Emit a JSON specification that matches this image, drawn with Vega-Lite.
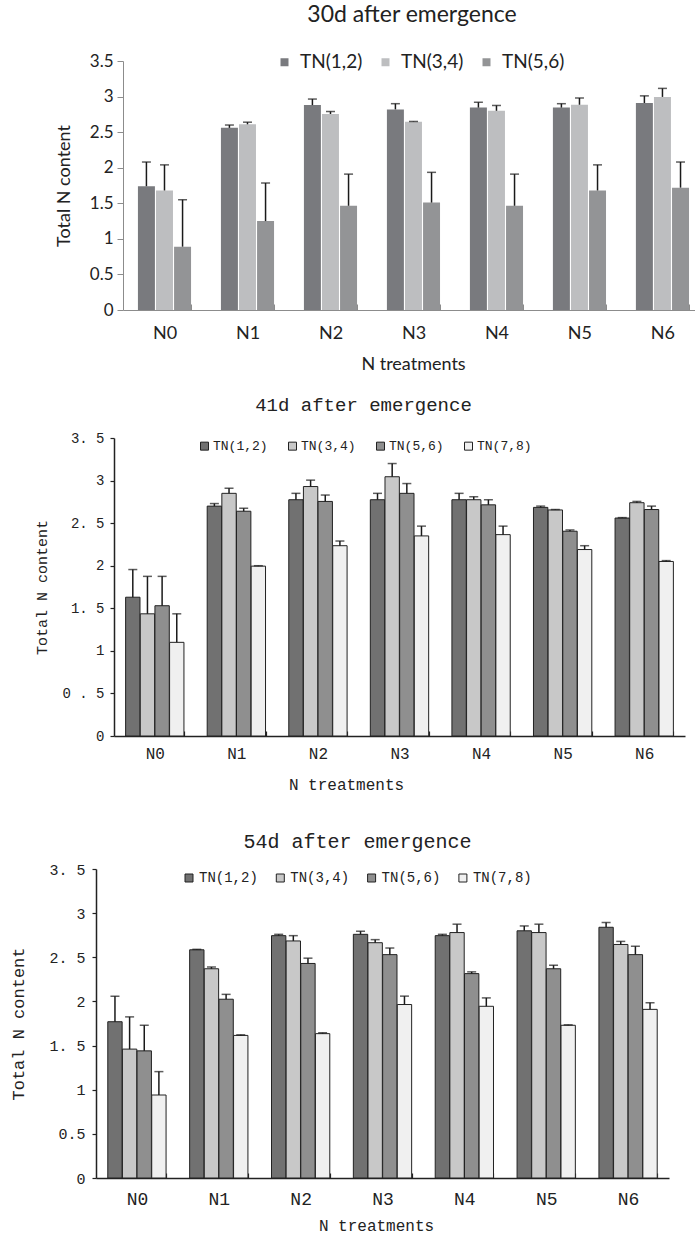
{
  "$schema": "https://vega.github.io/schema/vega-lite/v6.json",
  "padding": {"left": 0, "top": 4, "right": 0, "bottom": 4},
  "background": "white",
  "config": {"view": {"stroke": null}},
  "datasets": {
    "d30": [
      {"treatment": "N0", "series": "TN(1,2)", "value": 1.74, "upper": 2.08},
      {"treatment": "N0", "series": "TN(3,4)", "value": 1.68, "upper": 2.04},
      {"treatment": "N0", "series": "TN(5,6)", "value": 0.89, "upper": 1.55},
      {"treatment": "N1", "series": "TN(1,2)", "value": 2.56, "upper": 2.6},
      {"treatment": "N1", "series": "TN(3,4)", "value": 2.61, "upper": 2.64},
      {"treatment": "N1", "series": "TN(5,6)", "value": 1.25, "upper": 1.785},
      {"treatment": "N2", "series": "TN(1,2)", "value": 2.88, "upper": 2.965},
      {"treatment": "N2", "series": "TN(3,4)", "value": 2.755, "upper": 2.79},
      {"treatment": "N2", "series": "TN(5,6)", "value": 1.465, "upper": 1.91},
      {"treatment": "N3", "series": "TN(1,2)", "value": 2.82, "upper": 2.9},
      {"treatment": "N3", "series": "TN(3,4)", "value": 2.645, "upper": 2.65},
      {"treatment": "N3", "series": "TN(5,6)", "value": 1.51, "upper": 1.935},
      {"treatment": "N4", "series": "TN(1,2)", "value": 2.845, "upper": 2.92},
      {"treatment": "N4", "series": "TN(3,4)", "value": 2.8, "upper": 2.875},
      {"treatment": "N4", "series": "TN(5,6)", "value": 1.465, "upper": 1.91},
      {"treatment": "N5", "series": "TN(1,2)", "value": 2.845, "upper": 2.9},
      {"treatment": "N5", "series": "TN(3,4)", "value": 2.885, "upper": 2.98},
      {"treatment": "N5", "series": "TN(5,6)", "value": 1.68, "upper": 2.04},
      {"treatment": "N6", "series": "TN(1,2)", "value": 2.91, "upper": 3.01},
      {"treatment": "N6", "series": "TN(3,4)", "value": 2.995, "upper": 3.115},
      {"treatment": "N6", "series": "TN(5,6)", "value": 1.72, "upper": 2.08}
    ],
    "d41": [
      {"treatment": "N0", "series": "TN(1,2)", "value": 1.63, "upper": 1.955},
      {"treatment": "N0", "series": "TN(3,4)", "value": 1.435, "upper": 1.875},
      {"treatment": "N0", "series": "TN(5,6)", "value": 1.53, "upper": 1.875},
      {"treatment": "N0", "series": "TN(7,8)", "value": 1.1, "upper": 1.435},
      {"treatment": "N1", "series": "TN(1,2)", "value": 2.7, "upper": 2.73},
      {"treatment": "N1", "series": "TN(3,4)", "value": 2.85, "upper": 2.91},
      {"treatment": "N1", "series": "TN(5,6)", "value": 2.64, "upper": 2.675},
      {"treatment": "N1", "series": "TN(7,8)", "value": 1.995, "upper": 2.0},
      {"treatment": "N2", "series": "TN(1,2)", "value": 2.775, "upper": 2.85},
      {"treatment": "N2", "series": "TN(3,4)", "value": 2.93, "upper": 3.005},
      {"treatment": "N2", "series": "TN(5,6)", "value": 2.755, "upper": 2.83},
      {"treatment": "N2", "series": "TN(7,8)", "value": 2.235, "upper": 2.29},
      {"treatment": "N3", "series": "TN(1,2)", "value": 2.775, "upper": 2.85},
      {"treatment": "N3", "series": "TN(3,4)", "value": 3.045, "upper": 3.2},
      {"treatment": "N3", "series": "TN(5,6)", "value": 2.85, "upper": 2.965},
      {"treatment": "N3", "series": "TN(7,8)", "value": 2.35, "upper": 2.465},
      {"treatment": "N4", "series": "TN(1,2)", "value": 2.775, "upper": 2.85},
      {"treatment": "N4", "series": "TN(3,4)", "value": 2.775, "upper": 2.81},
      {"treatment": "N4", "series": "TN(5,6)", "value": 2.715, "upper": 2.775},
      {"treatment": "N4", "series": "TN(7,8)", "value": 2.365, "upper": 2.465},
      {"treatment": "N5", "series": "TN(1,2)", "value": 2.685, "upper": 2.7},
      {"treatment": "N5", "series": "TN(3,4)", "value": 2.655, "upper": 2.66},
      {"treatment": "N5", "series": "TN(5,6)", "value": 2.405, "upper": 2.42},
      {"treatment": "N5", "series": "TN(7,8)", "value": 2.19, "upper": 2.235},
      {"treatment": "N6", "series": "TN(1,2)", "value": 2.56, "upper": 2.565},
      {"treatment": "N6", "series": "TN(3,4)", "value": 2.74, "upper": 2.755},
      {"treatment": "N6", "series": "TN(5,6)", "value": 2.66, "upper": 2.7},
      {"treatment": "N6", "series": "TN(7,8)", "value": 2.05, "upper": 2.06}
    ],
    "d54": [
      {"treatment": "N0", "series": "TN(1,2)", "value": 1.77, "upper": 2.06},
      {"treatment": "N0", "series": "TN(3,4)", "value": 1.46, "upper": 1.825},
      {"treatment": "N0", "series": "TN(5,6)", "value": 1.44, "upper": 1.73},
      {"treatment": "N0", "series": "TN(7,8)", "value": 0.94, "upper": 1.205},
      {"treatment": "N1", "series": "TN(1,2)", "value": 2.585, "upper": 2.59},
      {"treatment": "N1", "series": "TN(3,4)", "value": 2.37, "upper": 2.39},
      {"treatment": "N1", "series": "TN(5,6)", "value": 2.025, "upper": 2.08},
      {"treatment": "N1", "series": "TN(7,8)", "value": 1.615, "upper": 1.622},
      {"treatment": "N2", "series": "TN(1,2)", "value": 2.745, "upper": 2.76},
      {"treatment": "N2", "series": "TN(3,4)", "value": 2.685, "upper": 2.745},
      {"treatment": "N2", "series": "TN(5,6)", "value": 2.43, "upper": 2.49},
      {"treatment": "N2", "series": "TN(7,8)", "value": 1.635, "upper": 1.645},
      {"treatment": "N3", "series": "TN(1,2)", "value": 2.76, "upper": 2.795},
      {"treatment": "N3", "series": "TN(3,4)", "value": 2.665, "upper": 2.7},
      {"treatment": "N3", "series": "TN(5,6)", "value": 2.53, "upper": 2.605},
      {"treatment": "N3", "series": "TN(7,8)", "value": 1.965, "upper": 2.06},
      {"treatment": "N4", "series": "TN(1,2)", "value": 2.745, "upper": 2.76},
      {"treatment": "N4", "series": "TN(3,4)", "value": 2.78, "upper": 2.875},
      {"treatment": "N4", "series": "TN(5,6)", "value": 2.315, "upper": 2.335},
      {"treatment": "N4", "series": "TN(7,8)", "value": 1.945, "upper": 2.04},
      {"treatment": "N5", "series": "TN(1,2)", "value": 2.8, "upper": 2.855},
      {"treatment": "N5", "series": "TN(3,4)", "value": 2.78, "upper": 2.875},
      {"treatment": "N5", "series": "TN(5,6)", "value": 2.37, "upper": 2.41},
      {"treatment": "N5", "series": "TN(7,8)", "value": 1.73, "upper": 1.735},
      {"treatment": "N6", "series": "TN(1,2)", "value": 2.84, "upper": 2.895},
      {"treatment": "N6", "series": "TN(3,4)", "value": 2.645, "upper": 2.68},
      {"treatment": "N6", "series": "TN(5,6)", "value": 2.53, "upper": 2.625},
      {"treatment": "N6", "series": "TN(7,8)", "value": 1.91, "upper": 1.985}
    ]
  },
  "spacing": 0,
  "resolve": {"scale": {"color": "independent", "x": "independent", "y": "independent", "xOffset": "independent"}, "legend": {"color": "independent"}},
  "vconcat": [
    {
      "spacing": 0,
      "hconcat": [
        {"width": 55, "height": 334.3, "data": {"values": []}, "mark": "point", "encoding": {}},
        {
          "width": 572, "height": 249,
          "data": {"name": "d30"},
          "title": {"text": "30d after emergence", "font": "Lato", "fontSize": 23, "fontWeight": "normal", "color": "#222", "anchor": "middle", "frame": "group", "dx": 3, "offset": 25},
          "encoding": {
            "x": {"field": "treatment", "type": "nominal", "title": "N treatments",
              "scale": {"paddingInner": 0.36, "paddingOuter": 0.126, "align": 0.714},
              "axis": {"labelAngle": 0, "labelFont": "Lato", "labelFontSize": 18, "labelColor": "#222", "labelPadding": 20, "tickSize": -6, "tickBand": "extent", "domainColor": "#8c8c8c", "tickColor": "#8c8c8c", "titleFont": "Lato", "titleFontSize": 18, "titleFontWeight": "normal", "titleColor": "#222", "titleX": 290, "titleY": 54, "titleBaseline": "middle"}},
            "xOffset": {"field": "series", "type": "nominal", "scale": {"paddingInner": 0.06}},
            "y": {"field": "value", "type": "quantitative", "title": "Total N content",
              "scale": {"domain": [0, 3.5], "nice": false},
              "axis": {"values": [0, 0.5, 1, 1.5, 2, 2.5, 3, 3.5], "format": "~g", "grid": false, "tickSize": 6, "labelPadding": 4, "domainColor": "#8c8c8c", "tickColor": "#8c8c8c", "labelFont": "Lato", "labelFontSize": 17, "labelColor": "#222", "titleFont": "Lato", "titleFontSize": 18, "titleFontWeight": "normal", "titleColor": "#222", "titleX": -58.7, "titleBaseline": "middle"}}
          },
          "layer": [
            {"mark": {"type": "bar"},
             "encoding": {"color": {"field": "series", "type": "nominal",
               "scale": {"domain": ["TN(1,2)", "TN(3,4)", "TN(5,6)"], "range": ["#797a7e", "#bdbec0", "#939496"]},
               "legend": {"orient": "none", "legendX": 275, "legendY": -8.5, "direction": "horizontal", "title": null, "symbolType": "square", "symbolSize": 64, "symbolStrokeWidth": 0, "symbolOpacity": 1, "labelFont": "Lato", "labelFontSize": 19, "labelColor": "#222", "labelOffset": 6, "columnPadding": 13, "padding": 0}}}},
            {"mark": {"type": "rule", "color": "#1a1a1a", "strokeWidth": 1.5},
             "encoding": {"y2": {"field": "upper"}}},
            {"mark": {"type": "tick", "color": "#1a1a1a", "thickness": 1.5, "size": 9},
             "encoding": {"y": {"field": "upper", "type": "quantitative", "title": "Total N content"}}}
          ]
        }
      ]
    },
    {
      "spacing": 0,
      "hconcat": [
        {"width": 34, "height": 393.7, "data": {"values": []}, "mark": "point", "encoding": {}},
        {
          "width": 571, "height": 298,
          "data": {"name": "d41"},
          "title": {"text": "41d after emergence", "font": "Liberation Mono", "fontSize": 19, "fontWeight": "normal", "color": "#222", "anchor": "middle", "frame": "group", "dx": -36, "offset": 16},
          "encoding": {
            "x": {"field": "treatment", "type": "nominal", "title": "N treatments",
              "scale": {"paddingInner": 0.285, "paddingOuter": 0.1425},
              "axis": {"labelAngle": 0, "labelFont": "Liberation Mono", "labelFontSize": 16, "labelColor": "#222", "labelPadding": 14, "tickSize": -5, "tickBand": "extent", "domainColor": "#222", "domainWidth": 1.5, "tickColor": "#222", "tickWidth": 1.2, "titleFont": "Liberation Mono", "titleFontSize": 16, "titleFontWeight": "normal", "titleColor": "#222", "titleX": 232, "titleY": 48, "titleBaseline": "middle"}},
            "xOffset": {"field": "series", "type": "nominal", "scale": {"paddingInner": 0.02}},
            "y": {"field": "value", "type": "quantitative", "title": "Total N content",
              "scale": {"domain": [0, 3.5], "nice": false},
              "axis": {"values": [0, 0.5, 1, 1.5, 2, 2.5, 3, 3.5], "format": "~g", "labelExpr": "datum.value == 0.5 ? '0 . 5' : replace(datum.label, '.', '. ')", "grid": false, "tickSize": 4, "labelPadding": 6, "domainColor": "#222", "domainWidth": 1.5, "tickColor": "#222", "tickWidth": 1.2, "labelFont": "Liberation Mono", "labelFontSize": 14, "labelColor": "#222", "titleFont": "Liberation Mono", "titleFontSize": 15, "titleFontWeight": "normal", "titleColor": "#222", "titleX": -73, "titleBaseline": "middle"}}
          },
          "layer": [
            {"mark": {"type": "bar", "stroke": "#222", "strokeWidth": 1},
             "encoding": {"color": {"field": "series", "type": "nominal",
               "scale": {"domain": ["TN(1,2)", "TN(3,4)", "TN(5,6)", "TN(7,8)"], "range": ["#717171", "#c8c8c8", "#8f8f8f", "#f0f0f0"]},
               "legend": {"orient": "none", "legendX": 198, "legendY": 1.4, "direction": "horizontal", "title": null, "symbolType": "square", "symbolSize": 64, "symbolStrokeColor": "#222", "symbolStrokeWidth": 1, "labelFont": "Liberation Mono", "labelFontSize": 13, "labelColor": "#222", "labelOffset": 2, "columnPadding": 18, "padding": 0}}}},
            {"mark": {"type": "rule", "color": "#1a1a1a", "strokeWidth": 1.5},
             "encoding": {"y2": {"field": "upper"}}},
            {"mark": {"type": "tick", "color": "#1a1a1a", "thickness": 1.5, "size": 9},
             "encoding": {"y": {"field": "upper", "type": "quantitative", "title": "Total N content"}}}
          ]
        }
      ]
    },
    {
      "spacing": 0,
      "hconcat": [
        {"width": 9, "height": 1, "data": {"values": []}, "mark": "point", "encoding": {}},
        {
          "width": 573, "height": 309,
          "data": {"name": "d54"},
          "title": {"text": "54d after emergence", "font": "Liberation Mono", "fontSize": 20, "fontWeight": "normal", "color": "#222", "anchor": "middle", "frame": "group", "dx": -25, "offset": 10},
          "encoding": {
            "x": {"field": "treatment", "type": "nominal", "title": "N treatments",
              "scale": {"paddingInner": 0.288, "paddingOuter": 0.144},
              "axis": {"labelAngle": 0, "labelFont": "Liberation Mono", "labelFontSize": 18, "labelColor": "#222", "labelPadding": 17, "tickSize": -5, "tickBand": "extent", "domainColor": "#222", "domainWidth": 1.5, "tickColor": "#222", "tickWidth": 1.2, "titleFont": "Liberation Mono", "titleFontSize": 16, "titleFontWeight": "normal", "titleColor": "#222", "titleX": 280, "titleY": 47, "titleBaseline": "middle"}},
            "xOffset": {"field": "series", "type": "nominal", "scale": {"paddingInner": 0.02}},
            "y": {"field": "value", "type": "quantitative", "title": "Total N content",
              "scale": {"domain": [0, 3.5], "nice": false},
              "axis": {"values": [0, 0.5, 1, 1.5, 2, 2.5, 3, 3.5], "format": "~g", "labelExpr": "datum.value == 0.5 ? '0.5' : replace(datum.label, '.', '. ')", "grid": false, "tickSize": 4, "labelPadding": 7, "domainColor": "#222", "domainWidth": 1.5, "tickColor": "#222", "tickWidth": 1.2, "labelFont": "Liberation Mono", "labelFontSize": 15, "labelColor": "#222", "titleFont": "Liberation Mono", "titleFontSize": 17, "titleFontWeight": "normal", "titleColor": "#222", "titleX": -77.7, "titleBaseline": "middle"}}
          },
          "layer": [
            {"mark": {"type": "bar", "stroke": "#222", "strokeWidth": 1},
             "encoding": {"color": {"field": "series", "type": "nominal",
               "scale": {"domain": ["TN(1,2)", "TN(3,4)", "TN(5,6)", "TN(7,8)"], "range": ["#717171", "#c8c8c8", "#8f8f8f", "#f0f0f0"]},
               "legend": {"orient": "none", "legendX": 182, "legendY": 2, "direction": "horizontal", "title": null, "symbolType": "square", "symbolSize": 64, "symbolStrokeColor": "#222", "symbolStrokeWidth": 1, "labelFont": "Liberation Mono", "labelFontSize": 14, "labelColor": "#222", "labelOffset": 3, "columnPadding": 15.3, "padding": 0}}}},
            {"mark": {"type": "rule", "color": "#1a1a1a", "strokeWidth": 1.5},
             "encoding": {"y2": {"field": "upper"}}},
            {"mark": {"type": "tick", "color": "#1a1a1a", "thickness": 1.5, "size": 9},
             "encoding": {"y": {"field": "upper", "type": "quantitative", "title": "Total N content"}}}
          ]
        }
      ]
    }
  ]
}
